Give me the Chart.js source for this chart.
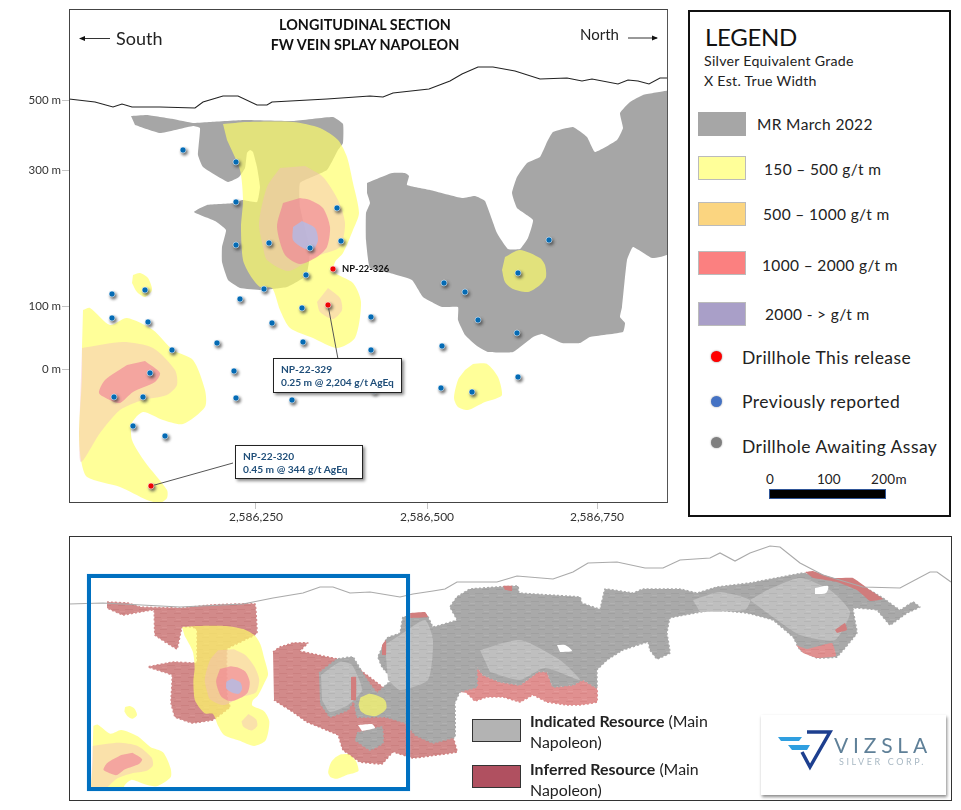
<!DOCTYPE html>
<html><head><meta charset="utf-8">
<script src="https://cdn.jsdelivr.net/npm/chart.js@4"></script>
<style>
html,body{margin:0;padding:0;background:#fff;width:961px;height:810px;overflow:hidden;font-family:Lato,"Open Sans",sans-serif;color:#222}
canvas{position:absolute;display:block}
.t{position:absolute;white-space:nowrap;line-height:1}
.box{position:absolute;box-sizing:border-box}
.sw{position:absolute;left:698px;width:48px;height:24px;box-sizing:border-box;border:1.5px solid #bbb}
.dot{position:absolute;left:711px;width:11px;height:11px;border-radius:50%}
.lg{position:absolute;white-space:nowrap;line-height:1;font-size:15.5px;letter-spacing:.35px;color:#222}
.big{font-size:17.5px;letter-spacing:.45px}
.call{position:absolute;box-sizing:border-box;background:#fff;border:1.5px solid #222;box-shadow:2px 2px 3px #888;color:#1f4e79;font-weight:700;font-size:10.2px;line-height:13px;padding:3.5px 0 0 7px;white-space:nowrap}
</style></head><body>
<canvas id="section" width="680" height="530" style="left:0;top:0;width:680px;height:530px"></canvas>
<div class="box" style="left:69px;top:9px;width:599px;height:494px;border:1.5px solid #444;border-right-color:#555"></div>
<div class="t" style="left:255px;top:15px;width:220px;text-align:center;font-weight:700;font-size:14.4px;line-height:20px;color:#111">LONGITUDINAL SECTION<br>FW VEIN SPLAY NAPOLEON</div>
<div class="t" style="left:116px;top:29px;font-size:18px">South</div>
<div class="t" style="left:580px;top:27px;font-size:15px">North</div>
<svg style="position:absolute;left:0;top:0" width="680" height="60"><path d="M80 38.5H110" stroke="#333"/><path d="M79 38.5l6-2.5v5z" fill="#111"/><path d="M628 38H657" stroke="#333"/><path d="M658 38l-6-2.5v5z" fill="#111"/></svg>
<div class="t" style="left:342px;top:264px;font-size:9.4px;font-weight:700;color:#111">NP-22-326</div>
<div class="call" style="left:273px;top:358px;width:129px;height:35px">NP-22-329<br>0.25 m @ 2,204 g/t AgEq</div>
<div class="call" style="left:235px;top:445px;width:128px;height:34px">NP-22-320<br>0.45 m @ 344 g/t AgEq</div>

<div class="box" style="left:688px;top:10px;width:263px;height:507px;border:2px solid #111"></div>
<div class="t" style="left:705px;top:25px;font-size:24px;letter-spacing:-.3px;color:#111">LEGEND</div>
<div class="t" style="left:704px;top:54px;font-size:14.2px;letter-spacing:.25px">Silver Equivalent Grade</div>
<div class="t" style="left:704px;top:74px;font-size:14.2px;letter-spacing:.25px">X Est. True Width</div>
<div class="sw" style="top:112px;background:#a6a6a6;border-color:#a6a6a6"></div>
<div class="sw" style="top:156px;background:#ffff99"></div>
<div class="sw" style="top:202px;background:#fbd580"></div>
<div class="sw" style="top:251px;background:#fb8080"></div>
<div class="sw" style="top:302px;background:#a99fc8"></div>
<div class="lg" style="left:757px;top:117px">MR March 2022</div>
<div class="lg" style="left:764px;top:162px">150 – 500 g/t m</div>
<div class="lg" style="left:763px;top:207px">500 – 1000 g/t m</div>
<div class="lg" style="left:762px;top:258px">1000 – 2000 g/t m</div>
<div class="lg" style="left:765px;top:307px">2000 - &gt; g/t m</div>
<div class="dot" style="top:351px;background:#f00;box-shadow:0 0 2px #777"></div>
<div class="dot" style="top:396px;background:#4472c4;box-shadow:0 0 2px #999"></div>
<div class="dot" style="top:437px;background:#7f7f7f;box-shadow:0 0 2px #999"></div>
<div class="lg big" style="left:742px;top:349px">Drillhole This release</div>
<div class="lg big" style="left:742px;top:393px">Previously reported</div>
<div class="lg big" style="left:742px;top:438px">Drillhole Awaiting Assay</div>
<div class="t" style="left:766px;top:473px;font-size:13.5px">0</div>
<div class="t" style="left:817px;top:473px;font-size:13.5px">100</div>
<div class="t" style="left:871px;top:473px;font-size:13.5px;letter-spacing:.3px">200m</div>
<div class="box" style="left:769px;top:489px;width:117px;height:10px;background:#000;border:1px solid #2f5597"></div>

<canvas id="resource" width="882" height="264" style="left:69px;top:536px;width:882px;height:264px"></canvas>
<div class="box" style="left:70px;top:790px;width:345px;height:10px;background:#fff"></div>
<div class="box" style="left:69px;top:536px;width:883px;height:265px;border:1.5px solid #333"></div>
<div class="box" style="left:87px;top:574px;width:323px;height:217px;border:4px solid #0070c0;box-shadow:0 0 1px #9cf"></div>
<div class="box" style="left:472px;top:719px;width:49px;height:23px;background:#b3b3b3;border:1.5px solid #333"></div>
<div class="box" style="left:472px;top:765px;width:49px;height:23px;background:#b05060;border:1.5px solid #333"></div>
<div class="t" style="left:530px;top:711px;font-size:15.9px;line-height:20.5px"><b>Indicated Resource</b> (Main<br>Napoleon)</div>
<div class="t" style="left:530px;top:759px;font-size:15.9px;line-height:20.5px"><b>Inferred Resource</b> (Main<br>Napoleon)</div>
<div class="box" style="left:761px;top:715px;width:185px;height:80px;background:#fff;box-shadow:1px 2px 3px #888"></div>
<svg style="position:absolute;left:761px;top:715px" width="185" height="80">
<path d="M17 22H41L38 26H20z" fill="#2f9fe0"/><path d="M27 30H49L46 35H31z" fill="#2f9fe0"/>
<path d="M41 37L49 52L69 17H46" fill="none" stroke="#1d3f8f" stroke-width="3.5"/>
<text x="73" y="38" font-family="Lato" font-size="21" letter-spacing="4.8" fill="#5f8098">VIZSLA</text>
<text x="78" y="50" font-family="Lato" font-size="9" letter-spacing="2.6" fill="#a9b9c4">SILVER CORP.</text>
</svg>

<script>
// Section axis ticks
const eastingTickValues=[187,358,528];
const eastingTickLabels=['2,586,250','2,586,500','2,586,750'];
const elevationTickValues=[134,197,333,403];
const elevationTickLabels=['0 m','100 m','300 m','500 m'];

// Longitudinal section outlines (section grid units)
const surfaceProfile=[[0,404],[26,401],[44,396],[53,399],[63,396],[91,396],[126,395],[134,401],[154,407],[169,407],[188,398],[198,398],[203,401],[258,404],[301,407],[314,406],[324,410],[360,414],[381,422],[393,429],[409,436],[424,436],[446,432],[471,424],[498,425],[513,422],[523,424],[549,419],[559,423],[569,422],[580,419],[591,425],[599,425]];
const mrWest=[[62,387],[78,388],[104,384],[124,380],[141,381],[176,383],[224,382],[264,386],[274,379],[274,360],[269,353],[258,333],[231,320],[231,296],[238,266],[241,255],[240,241],[237,227],[218,216],[193,213],[171,215],[159,223],[153,241],[153,256],[157,273],[146,282],[125,291],[138,298],[166,300],[173,303],[188,301],[191,316],[188,336],[184,351],[181,353],[178,350],[176,335],[170,326],[159,321],[134,336],[129,348],[131,375],[124,377],[91,370],[66,378]];
const mrEast=[[298,320],[323,330],[336,330],[340,327],[338,318],[361,313],[393,305],[406,307],[416,302],[428,270],[439,254],[451,254],[459,265],[464,283],[448,295],[443,310],[448,326],[458,340],[471,346],[478,361],[484,371],[504,376],[518,366],[526,351],[548,363],[554,375],[551,390],[561,401],[574,408],[596,412],[599,412],[599,249],[583,245],[564,256],[558,243],[553,196],[551,186],[556,180],[554,171],[521,166],[511,160],[493,160],[473,169],[464,166],[444,151],[419,151],[408,157],[396,168],[389,183],[389,196],[373,196],[354,206],[343,223],[321,230],[301,235],[297,263],[297,290],[301,300],[298,310]];
const grade150Main=[[154,379],[178,381],[224,381],[251,375],[269,363],[278,346],[284,320],[290,290],[284,273],[274,250],[266,241],[265,231],[284,220],[292,201],[286,165],[268,155],[244,165],[221,175],[211,193],[203,215],[191,216],[181,228],[174,243],[172,276],[174,303],[171,333],[158,363]];
const grade150South=[[14,193],[21,195],[41,178],[58,185],[84,173],[104,153],[124,143],[136,113],[136,96],[114,79],[94,83],[74,91],[63,80],[63,63],[76,41],[98,13],[98,5],[91,0],[78,3],[51,16],[18,26],[12,43],[10,70],[13,126],[13,156]];
const grade150Knob=[[64,228],[71,230],[79,225],[83,213],[76,206],[68,211],[63,220]];
const grade150East=[[436,246],[451,253],[471,245],[476,238],[477,226],[471,218],[459,211],[444,214],[436,221],[433,233]];
const grade150Low=[[404,139],[418,139],[429,126],[433,108],[426,104],[416,101],[399,93],[389,96],[385,105],[389,123],[396,133]];
const grade500Main=[[236,337],[254,326],[269,303],[276,280],[271,256],[251,248],[241,243],[219,232],[198,243],[194,256],[190,280],[198,316],[211,335]];
const grade500Blob=[[259,215],[271,205],[273,193],[264,184],[251,191],[248,201]];
const grade500South=[[13,155],[54,161],[84,155],[106,133],[108,118],[98,108],[74,103],[51,93],[31,70],[12,41],[10,70]];
const grade1000Main=[[231,305],[241,303],[254,295],[261,276],[258,256],[248,246],[231,239],[216,248],[208,276],[214,300]];
const grade1000South=[[76,142],[91,130],[86,121],[64,111],[51,100],[41,103],[30,110],[36,123],[58,138]];
const grade2000Main=[[233,282],[246,275],[249,263],[244,253],[234,255],[224,263],[224,276]];
const previousHoles=[[114,353],[167,341],[167,301],[167,258],[200,260],[241,255],[268,295],[272,262],[237,228],[195,214],[171,204],[233,195],[203,180],[234,161],[302,186],[302,153],[148,160],[103,153],[79,181],[43,185],[43,209],[76,213],[81,130],[165,132],[167,105],[223,103],[45,106],[74,106],[64,77],[96,67],[375,220],[396,211],[409,183],[448,170],[373,157],[449,126],[372,115],[403,111],[449,230],[480,263],[305,112]];
const releaseHoles=[[264,234],[259,198],[82,17]];
const leader329=[[259,198],[269,144]];
const leader320=[[82,17],[164,40]];

// Main Napoleon resource outlines (long-section units)
const surfaceLong=[[0,196],[34,197],[111,193],[174,196],[204,202],[234,207],[251,213],[264,213],[281,207],[301,208],[331,203],[344,206],[364,209],[376,211],[388,218],[428,218],[448,224],[484,221],[504,228],[519,237],[548,238],[576,232],[594,232],[611,240],[641,242],[651,247],[666,239],[681,247],[701,254],[711,253],[731,237],[754,225],[794,213],[831,212],[861,228],[868,228],[882,218]];
const inferredWest=[[38,198],[59,197],[71,193],[113,192],[141,195],[186,196],[188,167],[184,164],[158,151],[158,103],[161,93],[144,80],[123,77],[106,83],[102,97],[103,125],[79,133],[104,138],[126,137],[128,138],[128,170],[124,173],[113,173],[108,151],[86,165],[85,190],[71,188],[54,185],[38,192]];
const inferredMid=[[204,148],[211,153],[224,157],[239,157],[231,149],[268,141],[291,130],[331,100],[371,80],[384,63],[388,48],[344,42],[324,48],[313,36],[291,38],[274,50],[269,65],[238,78],[224,88],[205,100]];
const inferredBand=[[391,108],[408,133],[414,125],[431,118],[451,115],[469,128],[478,128],[484,113],[504,115],[514,120],[528,112],[528,98],[511,95],[498,95],[478,98],[464,105],[451,98],[434,103],[418,103],[406,99],[398,107]];
const indicatedMain=[[250,127],[268,141],[284,143],[296,123],[308,107],[319,117],[324,120],[313,133],[309,143],[318,162],[331,167],[334,183],[358,185],[364,173],[388,180],[381,193],[388,203],[401,211],[449,214],[450,207],[511,203],[513,197],[531,191],[536,211],[564,207],[574,211],[611,211],[628,207],[648,213],[681,217],[734,227],[754,223],[788,217],[814,202],[831,190],[844,198],[851,193],[838,187],[821,175],[808,190],[784,192],[788,167],[768,143],[748,142],[731,150],[724,163],[704,180],[678,187],[644,190],[601,182],[598,167],[601,147],[588,141],[581,150],[579,158],[554,150],[538,140],[528,130],[528,112],[514,120],[504,115],[484,113],[478,128],[469,128],[451,115],[431,118],[414,125],[408,133],[408,113],[391,108],[386,97],[386,63],[364,57],[346,65],[336,77],[316,83],[288,83],[285,100],[279,90],[261,83],[251,97]];
const indicatedArch=[[288,67],[313,73],[314,57],[301,50],[286,60]];
const lightA=[[316,155],[331,165],[356,180],[364,160],[359,120],[331,110],[319,120]];
const lightB=[[698,210],[731,222],[761,210],[781,188],[766,160],[731,165],[701,185],[681,200]];
const lightC=[[624,200],[651,208],[681,200],[676,190],[631,188]];
const lightD=[[411,150],[451,160],[491,140],[511,120],[476,132],[451,120],[421,128]];
const lightE=[[252,125],[271,138],[283,135],[293,110],[279,95],[261,88],[253,100]];
const holeArch=[[289,75],[303,76],[306,72],[293,69]];
const holeMid=[[488,155],[496,155],[503,149],[491,148]];
const holeEast=[[746,212],[759,214],[757,207],[746,206]];
const inferredNE=[[736,228],[744,229],[764,222],[784,222],[801,210],[814,201],[801,199],[788,210],[768,218],[744,222]];
const inferredSE=[[727,155],[738,151],[763,157],[767,144],[748,142],[734,147]];
const inferredPatches=[
 [[766,170],[776,177],[778,170],[768,167]],
 [[434,214],[443,214],[443,209],[436,210]],
 [[341,187],[356,188],[359,183],[341,182]],
 [[313,155],[317,160],[317,145],[313,145]],
 [[282,123],[287,123],[287,100],[282,100]]
];

const MR='#a6a6a6',Y='rgba(255,255,105,.68)',O='rgba(244,188,190,.45)',P='rgba(240,105,150,.5)',V='rgba(170,190,240,.72)';
const xy=a=>a.map(p=>({x:p[0],y:p[1]}));
const poly=(d,c,t=0.25,ax={})=>Object.assign({data:xy(d),showLine:true,fill:'shape',backgroundColor:c,borderColor:'transparent',borderWidth:0,tension:t,pointRadius:0,pointHoverRadius:0},ax);
const stroke=(d,c,w)=>({data:xy(d),showLine:true,fill:false,borderColor:c,borderWidth:w,tension:0,pointRadius:0,pointHoverRadius:0});
const holes=(d,c)=>({data:xy(d),showLine:false,pointRadius:3,pointHoverRadius:3,pointBackgroundColor:c,pointBorderColor:'rgba(255,255,255,.75)',pointBorderWidth:.7,dropShadow:true});
const stack=l=>{l.forEach((d,i)=>d.order=l.length-i);return l};
// Block-model look: a faint repeating brick texture and a finely stepped outline
const bricks=(base,dark,light)=>{const k=document.createElement('canvas');k.width=14;k.height=8;const g=k.getContext('2d');
 g.fillStyle=base;g.fillRect(0,0,14,8);g.fillStyle=dark;g.fillRect(0,1,8,1);g.fillRect(7,5,7,1);g.fillStyle=light;g.fillRect(9,3,5,1);
 return g.createPattern(k,'repeat')};
const block=(d,pat,edge,t=.05)=>poly(d,pat,t,{borderColor:edge,borderWidth:1.5,borderDash:[2,2]});
const grayTex=bricks('#a9a9a9','#a0a0a0','#b1b1b1'),lightTex=bricks('#bfbfbf','#b5b5b5','#c6c6c6'),redTex=bricks('#d28a8a','#cb8080','#d89292'),redLightTex=bricks('#e09090','#d98686','#e59a9a');

const shadow={id:'shadow',
 beforeDatasetDraw(c,a){if(c.data.datasets[a.index].dropShadow){c.ctx.save();c.ctx.shadowColor='rgba(60,60,60,.75)';c.ctx.shadowBlur=3;c.ctx.shadowOffsetX=1.5;c.ctx.shadowOffsetY=2;}},
 afterDatasetDraw(c,a){if(c.data.datasets[a.index].dropShadow)c.ctx.restore();}};
const base={responsive:false,animation:false,events:[],plugins:{legend:{display:false},tooltip:{enabled:false},title:{display:false}}};
const tickColor='#c4c4c4';

new Chart(document.getElementById('section'),{type:'scatter',plugins:[shadow],data:{datasets:stack([
 poly(mrWest,MR,.12),poly(mrEast,MR,.12),
 poly(grade150Main,Y),poly(grade150South,Y),poly(grade150Knob,Y),poly(grade150East,Y),poly(grade150Low,Y),
 poly(grade500Main,O),poly(grade500Blob,O),poly(grade500South,O),
 poly(grade1000Main,P),poly(grade1000South,P),poly(grade2000Main,V),
 stroke(surfaceProfile,'#222',1.1),stroke(leader329,'#555',1),stroke(leader320,'#555',1),
 holes(previousHoles,'#0070c0'),holes(releaseHoles,'#ff0000')
])},options:Object.assign({},base,{layout:{padding:{top:10,right:12,left:0,bottom:0}},scales:{
 x:{type:'linear',min:0,max:599,afterFit:s=>{s.height=27},afterBuildTicks:s=>{s.ticks=eastingTickValues.map(v=>({value:v}))},
    grid:{drawOnChartArea:false,drawTicks:true,tickLength:6,tickColor:tickColor},border:{display:false},
    ticks:{autoSkip:false,maxRotation:0,padding:1,color:'#333',font:{family:'Lato',size:12},callback:v=>eastingTickLabels[eastingTickValues.indexOf(v)]}},
 y:{type:'linear',min:0,max:493,afterFit:s=>{s.width=69},afterBuildTicks:s=>{s.ticks=elevationTickValues.map(v=>({value:v}))},
    grid:{drawOnChartArea:false,drawTicks:true,tickLength:7,tickColor:tickColor},border:{display:false},
    ticks:{autoSkip:false,padding:1,color:'#333',font:{family:'Lato',size:11.5},callback:v=>elevationTickLabels[elevationTickValues.indexOf(v)]}}
}})});

const inset={xAxisID:'xs',yAxisID:'ys'};
new Chart(document.getElementById('resource'),{type:'scatter',data:{datasets:stack([
 block(inferredWest,redTex,'#d28a8a'),block(inferredMid,redTex,'#cf8080'),block(inferredBand,redLightTex,'#de8c8c'),
 block(indicatedMain,grayTex,'#a9a9a9'),block(indicatedArch,grayTex,'#a9a9a9',.1),
 poly(lightA,lightTex,.2),poly(lightB,lightTex,.2),poly(lightC,lightTex,.2),poly(lightD,lightTex,.2),poly(lightE,lightTex,.2),
 poly(holeArch,'#fff',.2),poly(holeMid,'#fff',.3),poly(holeEast,'#fff',.3),
 poly(inferredNE,'#d07c7c',.1),poly(inferredSE,redLightTex,.1),...inferredPatches.map(p=>poly(p,'#d27e7e',.1)),
 poly(grade150Main,Y,.25,inset),poly(grade150South,Y,.25,inset),poly(grade150Knob,Y,.25,inset),poly(grade150East,Y,.25,inset),poly(grade150Low,Y,.25,inset),
 poly(grade500Main,O,.25,inset),poly(grade500Blob,O,.25,inset),poly(grade500South,O,.25,inset),
 poly(grade1000Main,P,.25,inset),poly(grade1000South,P,.25,inset),poly(grade2000Main,V,.25,inset),
 stroke(surfaceLong,'#aaa',1.2)
])},options:Object.assign({},base,{layout:{padding:0},scales:{
 x:{type:'linear',display:false,min:0,max:882},
 y:{type:'linear',display:false,min:0,max:264},
 xs:{type:'linear',display:false,min:-24.5,max:1369},
 ys:{type:'linear',display:false,min:53.1,max:550.3}
}})});
</script>
</body></html>
